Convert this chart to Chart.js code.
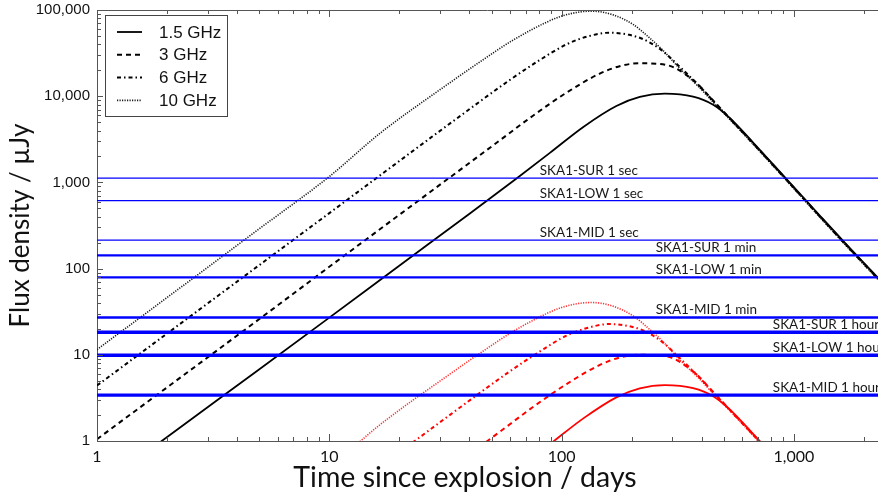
<!DOCTYPE html>
<html><head><meta charset="utf-8">
<script src="https://cdn.jsdelivr.net/npm/chart.js@4"></script>
<style>html,body{margin:0;padding:0;background:#fff}canvas{display:block}</style>
</head><body>
<canvas id="c" width="878" height="500"></canvas>
<script>
// ---------- Data (time in days, flux density in µJy) ----------
const legendNames = ['1.5 GHz', '3 GHz', '6 GHz', '10 GHz'];

const t15 = [1, 1.9, 5, 10, 20, 40, 65, 89, 124, 172, 217, 278, 368, 449, 529, 667, 929, 1300, 1700, 2300];
const f15 = [0.27, 1.0, 6.8, 27, 108, 430, 1150, 2200, 4400, 7700, 9800, 10700, 9870, 7950, 5600, 2900, 1090, 405, 185, 78];

const t3 = [1, 5, 10, 20, 54, 75, 105, 146, 180, 217, 283, 368, 449, 529, 667, 929, 1300, 1700, 2300];
const f3 = [1.05, 26, 105, 420, 3050, 5900, 11000, 18300, 22500, 24100, 23000, 15400, 8900, 5550, 2850, 1075, 398, 182, 77];

const t6 = [1, 10, 35, 60, 80, 105, 130, 161, 195, 224, 270, 322, 393, 449, 529, 667, 929, 1300, 1700, 2300];
const f6 = [4.4, 440, 5400, 15500, 26000, 40000, 49500, 54600, 51500, 46000, 34000, 22000, 13000, 8800, 5500, 2820, 1065, 394, 180, 76];

const t10 = [1, 2, 5, 10, 16.5, 32, 44, 62, 86, 100, 120, 135, 166, 203, 240, 273, 322, 393, 449, 529, 667, 929, 1300, 1700, 2300];
const f10 = [11.5, 46, 290, 1170, 3700, 13500, 24500, 45000, 72000, 85000, 95000, 97000, 88000, 68000, 47000, 34000, 21000, 12500, 8500, 5400, 2780, 1050, 388, 177, 75];

// fainter (red) source
const tR15 = [65, 89, 124, 172, 217, 278, 368, 449, 529, 667, 929];
const fR15 = [0.479, 0.917, 1.83, 3.21, 4.08, 4.46, 4.11, 3.31, 2.33, 1.21, 0.454];

const tR3 = [20, 54, 75, 105, 146, 180, 217, 283, 368, 449, 529, 667, 929];
const fR3 = [0.175, 1.27, 2.46, 4.58, 7.63, 9.38, 10.0, 9.58, 6.42, 3.71, 2.31, 1.19, 0.448];

const tR6 = [10, 35, 60, 80, 105, 130, 161, 195, 224, 270, 322, 393, 449, 529, 667, 929];
const fR6 = [0.183, 2.25, 6.46, 10.8, 16.7, 20.6, 22.75, 21.5, 19.2, 14.2, 9.17, 5.42, 3.67, 2.29, 1.18, 0.444];

const tR10 = [5, 10, 16.5, 32, 44, 62, 86, 100, 120, 135, 166, 203, 240, 273, 322, 393, 449, 529, 667, 929];
const fR10 = [0.121, 0.488, 1.54, 5.63, 10.2, 18.75, 30.0, 35.4, 39.6, 40.4, 36.7, 28.3, 19.6, 14.2, 8.75, 5.21, 3.54, 2.25, 1.16, 0.438];

// SKA1 sensitivity levels
const skaLabels = ['SKA1-SUR 1 sec', 'SKA1-LOW 1 sec', 'SKA1-MID 1 sec',
                   'SKA1-SUR 1 min', 'SKA1-LOW 1 min', 'SKA1-MID 1 min',
                   'SKA1-SUR 1 hour', 'SKA1-LOW 1 hour', 'SKA1-MID 1 hour'];
const skaFlux = [1120, 614, 214, 142, 79, 27.1, 18.3, 9.9, 3.41];

const xTicks = [1, 10, 100, 1000];
const yTicks = [1, 10, 100, 1000, 10000, 100000];
const xRange = [1, 2300];
const yRange = [1, 100000];
const xTitle = 'Time since explosion / days';
const yTitle = 'Flux density / µJy';

// ---------- Styles ----------
const curveStyles = [
  {dash: [], width: 1.8},
  {dash: [5, 4], width: 2},
  {dash: [4, 3, 1.5, 3], width: 2},
  {dash: [1.2, 1.3], width: 1.6}
];
const skaWidths = [1.4, 1.4, 1.4, 2.3, 2.3, 2.3, 3.4, 3.4, 3.4];
const skaLabelDay = [80.5, 80.5, 80.5, 254, 254, 254, 811, 811, 811];

const pts = (ts, fs) => ts.map((t, i) => ({x: t, y: fs[i]}));

const datasets = [];
skaFlux.forEach((f, i) => {
  datasets.push({
    label: skaLabels[i], data: [{x: xRange[0], y: f}, {x: xRange[1], y: f}],
    borderColor: '#0000ff', borderWidth: skaWidths[i], pointRadius: 0, tension: 0
  });
});
const black = [[t15, f15], [t3, f3], [t6, f6], [t10, f10]];
const red = [[tR15, fR15], [tR3, fR3], [tR6, fR6], [tR10, fR10]];
red.forEach((s, i) => {
  datasets.push({
    label: legendNames[i] + ' (faint)', data: pts(s[0], s[1]),
    borderColor: i === 3 ? '#ff3030' : '#ff0000', borderWidth: curveStyles[i].width,
    borderDash: curveStyles[i].dash, pointRadius: 0, cubicInterpolationMode: 'monotone'
  });
});
black.forEach((s, i) => {
  datasets.push({
    label: legendNames[i], data: pts(s[0], s[1]),
    borderColor: i === 3 ? '#1a1a1a' : '#000', borderWidth: curveStyles[i].width,
    borderDash: curveStyles[i].dash, pointRadius: 0, cubicInterpolationMode: 'monotone'
  });
});

const line = (ctx, x1, y1, x2, y2) => { ctx.beginPath(); ctx.moveTo(x1, y1); ctx.lineTo(x2, y2); ctx.stroke(); };

const frameTicks = {
  id: 'frameTicks',
  afterDatasetsDraw(chart) {
    const {ctx, chartArea: a, scales: {x, y}} = chart;
    ctx.save();
    ctx.strokeStyle = '#555'; ctx.lineWidth = 1;
    line(ctx, a.left, a.top + 0.5, a.right, a.top + 0.5);
    for (let d = 0; d <= 3; d++) for (let k = 1; k <= 9; k++) {
      const v = k * Math.pow(10, d);
      if (v > x.max) break;
      const px = Math.round(x.getPixelForValue(v)) + 0.5;
      const len = k === 1 ? 7 : 4;
      line(ctx, px, a.bottom, px, a.bottom - len);
      line(ctx, px, a.top, px, a.top + len);
    }
    for (let d = 0; d <= 4; d++) for (let k = 1; k <= 9; k++) {
      const v = k * Math.pow(10, d);
      if (v > y.max) break;
      const py = Math.round(y.getPixelForValue(v)) + 0.5;
      const len = k === 1 ? 6 : 4;
      line(ctx, a.left, py, a.left + len, py);
    }
    // SKA labels
    ctx.fillStyle = '#1a1a1a';
    ctx.font = '13.5px Lato';
    ctx.textBaseline = 'alphabetic';
    ctx.textAlign = 'left';
    skaLabels.forEach((s, i) => {
      const px = x.getPixelForValue(skaLabelDay[i]);
      const py = y.getPixelForValue(skaFlux[i]) - 3;
      ctx.fillText(s, px, py);
    });
    // legend
    ctx.fillStyle = '#fff';
    ctx.fillRect(105.5, 15.5, 122, 101);
    ctx.strokeStyle = '#444'; ctx.lineWidth = 1;
    ctx.strokeRect(105.5, 15.5, 122, 101);
    legendNames.forEach((n, i) => {
      const yy = 32 + i * 22.8;
      ctx.save();
      ctx.strokeStyle = i === 3 ? '#1a1a1a' : '#000';
      ctx.lineWidth = curveStyles[i].width;
      ctx.setLineDash(curveStyles[i].dash);
      line(ctx, 117, yy, 142, yy);
      ctx.restore();
      ctx.fillStyle = '#111';
      ctx.font = '17px "Liberation Sans"';
      ctx.textBaseline = 'middle';
      ctx.fillText(n, 159, yy + 1);
    });
    // x axis title (centred on the original, wider plot)
    ctx.fillStyle = '#111';
    ctx.font = '28.5px Lato';
    ctx.textAlign = 'center';
    ctx.textBaseline = 'alphabetic';
    ctx.fillText(xTitle, 465, 487);
    ctx.restore();
  }
};

new Chart(document.getElementById('c'), {
  type: 'line',
  data: {datasets},
  options: {
    responsive: false, animation: false, devicePixelRatio: 1,
    layout: {padding: {top: 10, right: 0, left: 0, bottom: 0}},
    plugins: {legend: {display: false}, tooltip: {enabled: false}},
    scales: {
      x: {
        type: 'logarithmic', min: xRange[0], max: xRange[1],
        afterBuildTicks: s => { s.ticks = xTicks.map(v => ({value: v})); },
        afterFit: s => { s.height = 59; s.paddingLeft = 0; s.paddingRight = 0; },
        grid: {display: false, drawTicks: false},
        border: {display: true, color: '#555', width: 1},
        ticks: {autoSkip: false, maxRotation: 0, padding: 6, color: '#111',
                font: {family: 'Lato', size: 16},
                callback: v => Number(v).toLocaleString('en-US')},
        title: {display: false}
      },
      y: {
        type: 'logarithmic', min: yRange[0], max: yRange[1],
        afterBuildTicks: s => { s.ticks = yTicks.map(v => ({value: v})); },
        afterFit: s => { s.width = 97; s.paddingTop = 0; s.paddingBottom = 0; },
        grid: {display: false, drawTicks: false},
        border: {display: true, color: '#555', width: 1},
        ticks: {autoSkip: false, padding: 7, color: '#111',
                font: {family: '"Liberation Sans"', size: 15},
                callback: v => Number(v).toLocaleString('en-US')},
        title: {display: true, text: yTitle, color: '#111',
                font: {family: 'Lato', size: 26}, padding: {top: 5, bottom: 0}}
      }
    }
  },
  plugins: [frameTicks]
});
</script>
</body></html>
